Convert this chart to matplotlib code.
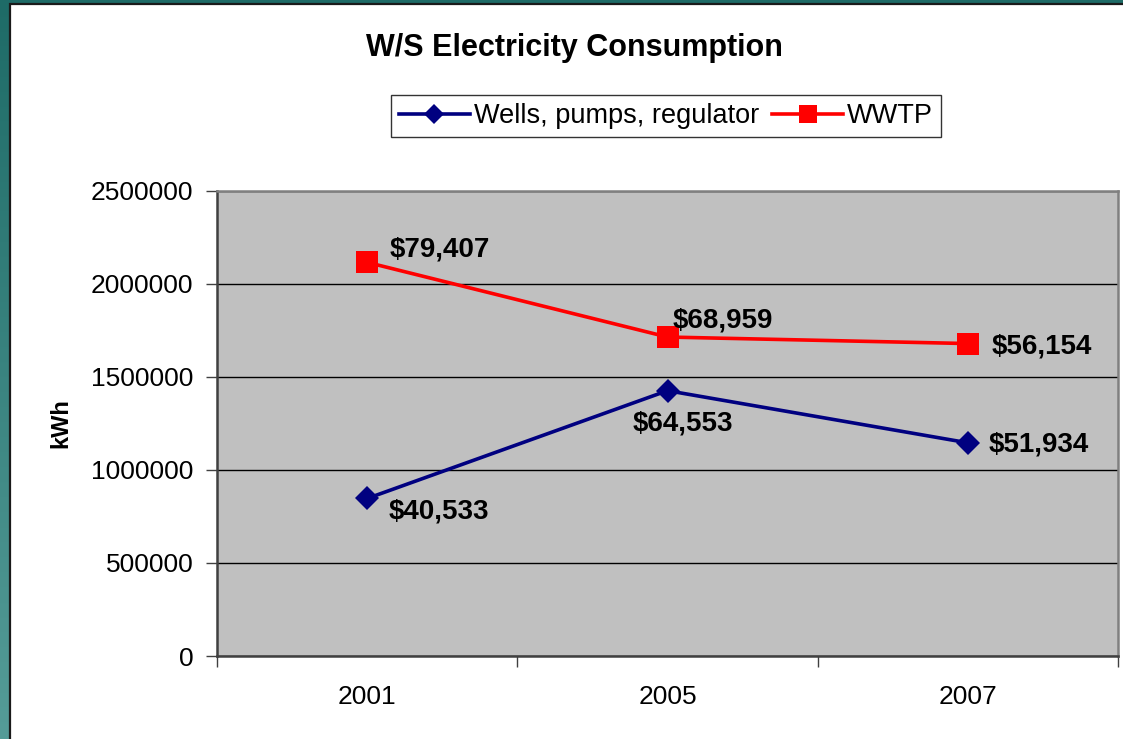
import numpy as np
import matplotlib
matplotlib.use("Agg")
import matplotlib.pyplot as plt
from matplotlib.lines import Line2D
from matplotlib.patches import Rectangle

plt.rcParams['font.family'] = ['Liberation Sans', 'DejaVu Sans']

years = ["2001", "2005", "2007"]
wells = [846000, 1425000, 1145000]
wwtp = [2114000, 1713000, 1678000]
wells_cost = ["$40,533", "$64,553", "$51,934"]
wwtp_cost = ["$79,407", "$68,959", "$56,154"]
series_names = ["Wells, pumps, regulator", "WWTP"]
y_ticks = [0, 500000, 1000000, 1500000, 2000000, 2500000]

W, H = 1123, 739
fig = plt.figure(figsize=(W / 100, H / 100), dpi=100)

# teal frame background
bg = fig.add_axes([0, 0, 1, 1], zorder=-10)
grad = np.linspace(0, 1, 256).reshape(-1, 1)
c_top = np.array([0x1e, 0x6b, 0x67]) / 255
c_bot = np.array([0x55, 0x9c, 0x98]) / 255
img = c_top[None, None, :] * (1 - grad[:, :, None]) + c_bot[None, None, :] * grad[:, :, None]
bg.imshow(img, aspect='auto', extent=[0, 1, 0, 1], origin='upper')
bg.set_xlim(0, 1)
bg.set_ylim(0, 1)
bg.axis('off')
bg.add_patch(Rectangle((10 / W, -0.01), 1.1, (H - 4) / H + 0.01, facecolor='white',
                       edgecolor='#1a1a1a', linewidth=1.6))

ax = fig.add_axes([217 / W, 1 - 656 / H, (1118 - 217) / W, (656 - 190.5) / H])
ax.set_facecolor('#C0C0C0')
x = np.arange(1, len(years) + 1)

ax.plot(x, wells, color='#000080', linewidth=2.6, marker='D', markersize=12.5,
        markeredgewidth=0, zorder=3)
ax.plot(x, wwtp, color='#FF0000', linewidth=2.6, marker='s', markersize=15.5,
        markeredgewidth=0, zorder=3)

ax.set_xlim(0.5, len(years) + 0.5)
ax.set_ylim(0, 2500000)
ax.set_yticks(y_ticks)
ax.set_yticklabels([str(v) for v in y_ticks])
ax.grid(axis='y', color='black', linewidth=1.0, zorder=1)
ax.set_axisbelow(True)

ax.set_xticks(np.arange(0.5, len(years) + 1, 1.0))
ax.set_xticklabels([])
ax.set_xticks(x, minor=True)
ax.set_xticklabels(years, minor=True)
ax.tick_params(axis='x', which='major', direction='out', length=8, width=1, color='#404040')
ax.tick_params(axis='x', which='minor', length=0, labelsize=19, pad=21)
ax.tick_params(axis='y', direction='out', length=8, width=1, color='#404040', labelsize=19, pad=9)

for side in ['left', 'bottom']:
    ax.spines[side].set_color('#404040')
    ax.spines[side].set_linewidth(1.8)
for side in ['top', 'right']:
    ax.spines[side].set_color('#808080')
    ax.spines[side].set_linewidth(1.8)

ax.set_ylabel("kWh", fontsize=17, fontweight='bold', labelpad=13)

wells_off = [(21, -20, 'left'), (15.5, -40, 'center'), (21, -8.5, 'left')]
wwtp_off = [(22, 6, 'left'), (5, 9.5, 'left'), (24, -10, 'left')]
for xi, v, lab, (dx, dy, ha) in zip(x, wells, wells_cost, wells_off):
    ax.annotate(lab, (xi, v), xytext=(dx, dy), textcoords='offset pixels',
                ha=ha, va='baseline', fontsize=20, fontweight='bold', zorder=5)
for xi, v, lab, (dx, dy, ha) in zip(x, wwtp, wwtp_cost, wwtp_off):
    ax.annotate(lab, (xi, v), xytext=(dx, dy), textcoords='offset pixels',
                ha=ha, va='baseline', fontsize=20, fontweight='bold', zorder=5)

fig.text(574 / W, 1 - 48 / H, "W/S Electricity Consumption", ha='center', va='center',
         fontsize=22, fontweight='bold')

handles = [
    Line2D([], [], color='#000080', linewidth=2.6, marker='D', markersize=10, markeredgewidth=0),
    Line2D([], [], color='#FF0000', linewidth=2.6, marker='s', markersize=13, markeredgewidth=0),
]
leg = fig.legend(handles, series_names, loc='center', bbox_to_anchor=(666 / W, 1 - 116 / H),
                 ncol=2, fontsize=19.5, frameon=True, fancybox=False, edgecolor='black',
                 handlelength=2.6, handletextpad=0.15, columnspacing=0.5,
                 borderpad=0.3, borderaxespad=0)
leg.get_frame().set_linewidth(1.0)

fig.savefig("out.png", dpi=100)
